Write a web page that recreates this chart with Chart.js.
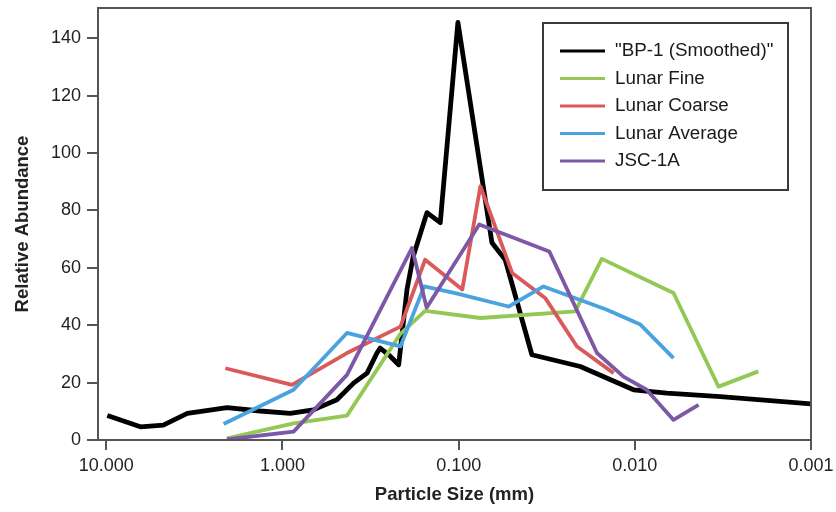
<!DOCTYPE html>
<html>
<head>
<meta charset="utf-8">
<script src="https://cdn.jsdelivr.net/npm/chart.js@4/dist/chart.umd.min.js"></script>
<style>
  html, body { margin: 0; padding: 0; background: #ffffff; }
  #wrap { width: 836px; height: 512px; position: relative; }
</style>
</head>
<body>
<div id="wrap"><canvas id="c" width="836" height="512"></canvas></div>
<script>
// ---- Data ----
const seriesNames = ['"BP-1 (Smoothed)"', 'Lunar Fine', 'Lunar Coarse', 'Lunar Average', 'JSC-1A'];

const bp1Size  = [9.87, 6.41, 4.75, 3.47, 2.06, 1.34, 0.903, 0.669, 0.491, 0.395, 0.331, 0.291, 0.279, 0.244, 0.219, 0.1965, 0.181, 0.1514, 0.1272, 0.101, 0.0647, 0.0544, 0.0384, 0.0204, 0.01017, 0.00658, 0.00327, 0.001];
const bp1Abund = [8.5, 4.6, 5.2, 9.3, 11.3, 10.1, 9.3, 10.5, 14.0, 19.8, 23.3, 30.3, 32.0, 29.1, 26.2, 52.4, 64.0, 79.2, 75.7, 145.5, 68.7, 62.8, 29.7, 25.6, 17.5, 16.3, 15.1, 12.6];

const fineSize  = [2.065, 0.865, 0.4305, 0.214, 0.155, 0.0753, 0.0218, 0.0154, 0.00603, 0.00335, 0.00199];
const fineAbund = [0.6, 5.8, 8.5, 37.0, 45.0, 42.5, 44.8, 63.1, 51.2, 18.6, 23.9];

const coarseSize  = [2.11, 0.883, 0.4305, 0.214, 0.155, 0.0954, 0.0753, 0.0497, 0.0323, 0.0213, 0.0132];
const coarseAbund = [25.0, 19.2, 30.3, 39.5, 62.8, 52.4, 88.4, 58.2, 49.5, 32.6, 23.3];

const avgSize  = [2.16, 0.865, 0.4305, 0.214, 0.157, 0.1045, 0.0521, 0.033, 0.0144, 0.0093, 0.00603];
const avgAbund = [5.6, 17.5, 37.3, 32.6, 53.5, 51.2, 46.5, 53.5, 45.4, 40.2, 28.5];

const jscSize  = [2.07, 0.865, 0.4305, 0.184, 0.152, 0.0764, 0.0306, 0.0164, 0.0116, 0.00857, 0.00603, 0.00435];
const jscAbund = [0.2, 2.9, 22.7, 66.9, 46.1, 75.1, 65.7, 30.3, 22.1, 17.5, 7.0, 12.2];

const xTickValues = [10, 1, 0.1, 0.01, 0.001];
const yTickValues = [0, 20, 40, 60, 80, 100, 120, 140];
const xRange = [0.001, 11.15];
const yRange = [0, 150.5];

// ---- Styles ----
const colors = ['#000000', '#92c853', '#da5a5c', '#4aa3df', '#7c58a5'];
const widths = [4.8, 3.8, 3.8, 3.8, 3.8];
const orders = [5, 4, 3, 2, 1];
const FONT = "'Liberation Sans', Arial, Helvetica, sans-serif";

function pts(xs, ys) { return xs.map((x, i) => ({ x: x, y: ys[i] })); }
const sizes = [bp1Size, fineSize, coarseSize, avgSize, jscSize];
const abunds = [bp1Abund, fineAbund, coarseAbund, avgAbund, jscAbund];

const datasets = seriesNames.map((name, i) => ({
  label: name,
  data: pts(sizes[i], abunds[i]),
  borderColor: colors[i],
  backgroundColor: colors[i],
  borderWidth: widths[i],
  pointRadius: 0,
  tension: 0,
  fill: false,
  order: orders[i],
  borderJoinStyle: 'round',
  borderCapStyle: 'butt'
}));

// Frame + boxed legend drawn inside the plot area
const framePlugin = {
  id: 'frameAndLegend',
  afterDraw(chart) {
    const ctx = chart.ctx;
    const a = chart.chartArea;
    ctx.save();
    ctx.strokeStyle = '#555555';
    ctx.lineWidth = 2;
    ctx.strokeRect(a.left, a.top, a.right - a.left, a.bottom - a.top);

    // legend box
    const bx = a.right - 268, by = a.top + 15, bw = 245, bh = 167;
    ctx.fillStyle = '#ffffff';
    ctx.fillRect(bx, by, bw, bh);
    ctx.strokeStyle = '#3a3a3a';
    ctx.lineWidth = 2;
    ctx.strokeRect(bx, by, bw, bh);
    ctx.font = '18.8px ' + FONT;
    ctx.textBaseline = 'middle';
    ctx.textAlign = 'left';
    chart.data.datasets.forEach((ds, i) => {
      const ry = by + 28 + i * 27.5;
      ctx.strokeStyle = ds.borderColor;
      ctx.lineWidth = 3.2;
      ctx.beginPath();
      ctx.moveTo(bx + 17, ry);
      ctx.lineTo(bx + 62, ry);
      ctx.stroke();
      ctx.fillStyle = '#1a1a1a';
      ctx.fillText(ds.label, bx + 72, ry);
    });
    ctx.restore();
  }
};

new Chart(document.getElementById('c'), {
  type: 'line',
  data: { datasets: datasets },
  plugins: [framePlugin],
  options: {
    responsive: false,
    animation: false,
    devicePixelRatio: 1,
    layout: { padding: { left: 0, right: 25, top: 8, bottom: 0 } },
    plugins: {
      legend: { display: false },
      tooltip: { enabled: false }
    },
    scales: {
      x: {
        type: 'logarithmic',
        reverse: true,
        min: xRange[0],
        max: xRange[1],
        afterBuildTicks(scale) { scale.ticks = xTickValues.map(v => ({ value: v })); },
        afterFit(scale) { scale.height = 72; scale.paddingLeft = 0; scale.paddingRight = 0; },
        ticks: {
          autoSkip: false,
          maxRotation: 0,
          padding: 5,
          color: '#222222',
          font: { family: FONT, size: 18 },
          callback: (v) => Number(v).toFixed(3)
        },
        grid: { drawOnChartArea: false, drawTicks: true, tickLength: 10, color: '#555555', lineWidth: 2 },
        border: { display: true, color: '#555555', width: 2 },
        title: {
          display: true,
          text: 'Particle Size (mm)',
          color: '#222222',
          font: { family: FONT, size: 18.5, weight: 'bold' },
          padding: { top: 0, bottom: 6 }
        }
      },
      y: {
        type: 'linear',
        min: yRange[0],
        max: yRange[1],
        afterBuildTicks(scale) { scale.ticks = yTickValues.map(v => ({ value: v })); },
        afterFit(scale) { scale.width = 98; scale.paddingTop = 0; scale.paddingBottom = 0; },
        ticks: {
          padding: 6,
          color: '#222222',
          font: { family: FONT, size: 18 }
        },
        grid: { drawOnChartArea: false, drawTicks: true, tickLength: 11, color: '#555555', lineWidth: 2 },
        border: { display: true, color: '#555555', width: 2 },
        title: {
          display: true,
          text: 'Relative Abundance',
          color: '#222222',
          font: { family: FONT, size: 18.5, weight: 'bold' },
          padding: { top: 12, bottom: 0 }
        }
      }
    }
  }
});
</script>
</body>
</html>
